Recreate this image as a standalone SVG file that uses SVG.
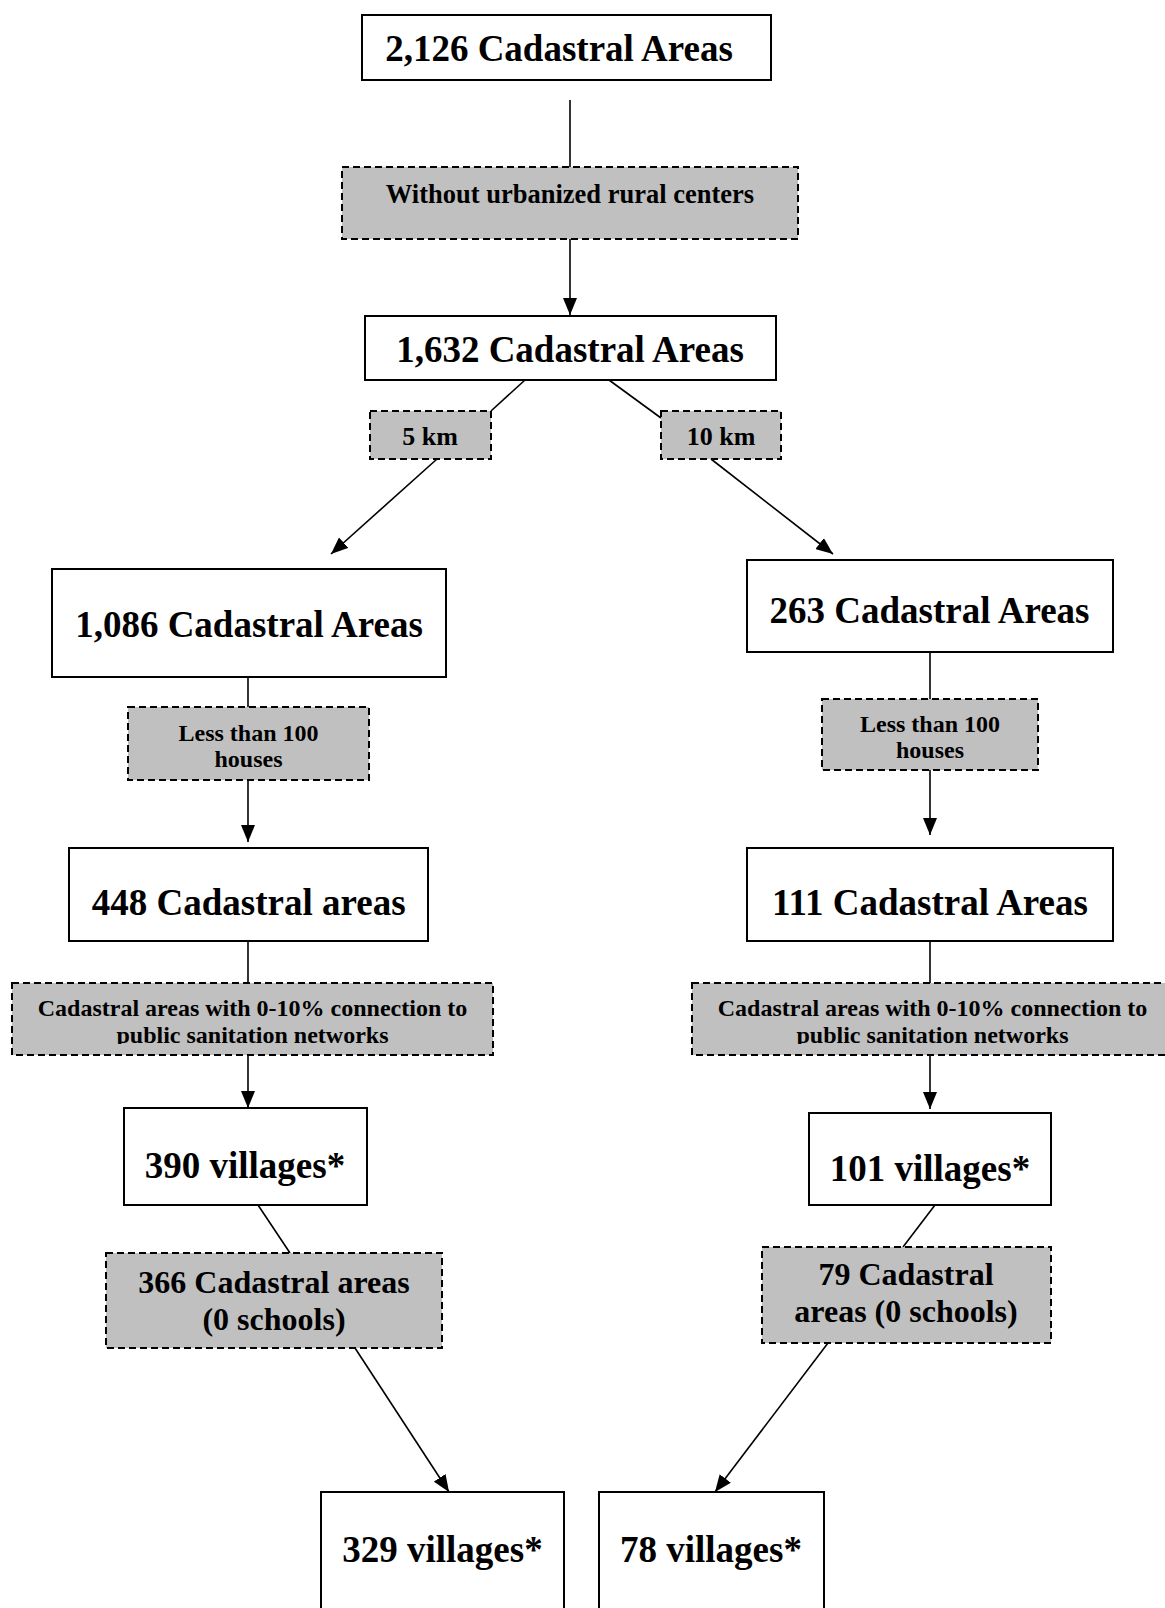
<svg xmlns="http://www.w3.org/2000/svg" width="1165" height="1608" viewBox="0 0 1165 1608">
<style>
.box{fill:#ffffff;stroke:#000;stroke-width:2}
.flt{fill:#c0c0c0;stroke:#000;stroke-width:2;stroke-dasharray:7,4}
.t{font-family:"Liberation Serif","Times New Roman",serif;font-weight:bold;fill:#000;text-anchor:middle}
.big{font-size:37px}
.mid{font-size:32px}
.km{font-size:26px}
.sm{font-size:24px}
.c{stroke:#000;stroke-width:1.6;fill:none}
.a{marker-end:url(#arr)}
</style>
<defs>
<marker id="arr" markerUnits="userSpaceOnUse" markerWidth="17" markerHeight="14" refX="17" refY="7" orient="auto" viewBox="0 0 17 14">
<path d="M0,0 L17,7 L0,14 z" fill="#000"/>
</marker>
<clipPath id="clipL"><rect x="12" y="983" width="481" height="61"/></clipPath>
<clipPath id="clipR"><rect x="692" y="983" width="481" height="61"/></clipPath>
</defs>
<rect width="1165" height="1608" fill="#fff"/>
<g id="connectors">
<line class="c" x1="570" y1="100" x2="570" y2="167"/>
<line class="c a" x1="570" y1="239" x2="570" y2="315"/>
<line class="c" x1="525" y1="380" x2="491" y2="411"/>
<line class="c" x1="609" y1="380" x2="661" y2="418"/>
<line class="c a" x1="437" y1="459" x2="331" y2="554"/>
<line class="c a" x1="711" y1="459" x2="833" y2="554"/>
<line class="c" x1="248" y1="677" x2="248" y2="707"/>
<line class="c a" x1="248" y1="780" x2="248" y2="842"/>
<line class="c" x1="930" y1="652" x2="930" y2="699"/>
<line class="c a" x1="930" y1="770" x2="930" y2="835"/>
<line class="c" x1="248" y1="941" x2="248" y2="983"/>
<line class="c" x1="930" y1="941" x2="930" y2="983"/>
<line class="c a" x1="248" y1="1055" x2="248" y2="1108"/>
<line class="c a" x1="930" y1="1055" x2="930" y2="1109"/>
<line class="c" x1="258" y1="1205" x2="290" y2="1253"/>
<line class="c" x1="935" y1="1205" x2="903" y2="1247"/>
<line class="c a" x1="355" y1="1348" x2="449" y2="1492"/>
<line class="c a" x1="828" y1="1343" x2="715" y2="1492"/>
</g>
<g id="n2126">
<rect class="box" x="362" y="15" width="409" height="65"/>
<text class="t big" x="559" y="61">2,126 Cadastral Areas</text>
</g>
<g id="f-urban">
<rect class="flt" x="342" y="167" width="456" height="72"/>
<text class="t" style="font-size:26.5px" x="570" y="203">Without urbanized rural centers</text>
</g>
<g id="n1632">
<rect class="box" x="365" y="316" width="411" height="64"/>
<text class="t big" x="570" y="362">1,632 Cadastral Areas</text>
</g>
<g id="f-5km">
<rect class="flt" x="370" y="411" width="121" height="48"/>
<text class="t km" x="430" y="445">5 km</text>
</g>
<g id="f-10km">
<rect class="flt" x="661" y="411" width="120" height="48"/>
<text class="t km" x="721" y="445">10 km</text>
</g>
<g id="n1086">
<rect class="box" x="52" y="569" width="394" height="108"/>
<text class="t big" x="249" y="637">1,086 Cadastral Areas</text>
</g>
<g id="n263">
<rect class="box" x="747" y="560" width="366" height="92"/>
<text class="t big" x="929.5" y="623">263 Cadastral Areas</text>
</g>
<g id="f-houses-l">
<rect class="flt" x="128" y="707" width="241" height="73"/>
<text class="t sm" x="248.5" y="741">Less than 100</text>
<text class="t sm" x="248.5" y="767">houses</text>
</g>
<g id="f-houses-r">
<rect class="flt" x="822" y="699" width="216" height="71"/>
<text class="t sm" x="930" y="732">Less than 100</text>
<text class="t sm" x="930" y="758">houses</text>
</g>
<g id="n448">
<rect class="box" x="69" y="848" width="359" height="93"/>
<text class="t big" x="248.7" y="915">448 Cadastral areas</text>
</g>
<g id="n111">
<rect class="box" x="747" y="848" width="366" height="93"/>
<text class="t big" x="930" y="915">111 Cadastral Areas</text>
</g>
<g id="f-sanit-l">
<rect class="flt" x="12" y="983" width="481" height="72"/>
<g clip-path="url(#clipL)">
<text class="t sm" x="252.5" y="1015.7">Cadastral areas with 0-10% connection to</text>
<text class="t sm" x="252.5" y="1042.7">public sanitation networks</text>
</g>
</g>
<g id="f-sanit-r">
<rect class="flt" x="692" y="983" width="481" height="72"/>
<g clip-path="url(#clipR)">
<text class="t sm" x="932.5" y="1015.7">Cadastral areas with 0-10% connection to</text>
<text class="t sm" x="932.5" y="1042.7">public sanitation networks</text>
</g>
</g>
<g id="n390">
<rect class="box" x="124" y="1108" width="243" height="97"/>
<text class="t big" x="245" y="1178">390 villages*</text>
</g>
<g id="n101">
<rect class="box" x="809" y="1113" width="242" height="92"/>
<text class="t big" x="930" y="1181">101 villages*</text>
</g>
<g id="f-366">
<rect class="flt" x="106" y="1253" width="336" height="95"/>
<text class="t mid" x="274" y="1293">366 Cadastral areas</text>
<text class="t mid" x="274" y="1330">(0 schools)</text>
</g>
<g id="f-79">
<rect class="flt" x="762" y="1247" width="289" height="96"/>
<text class="t mid" x="906" y="1285">79 Cadastral</text>
<text class="t mid" x="906" y="1322">areas (0 schools)</text>
</g>
<g id="n329">
<rect class="box" x="321" y="1492" width="243" height="140"/>
<text class="t big" x="442.5" y="1562">329 villages*</text>
</g>
<g id="n78">
<rect class="box" x="599" y="1492" width="225" height="140"/>
<text class="t big" x="711" y="1562">78 villages*</text>
</g>
</svg>
